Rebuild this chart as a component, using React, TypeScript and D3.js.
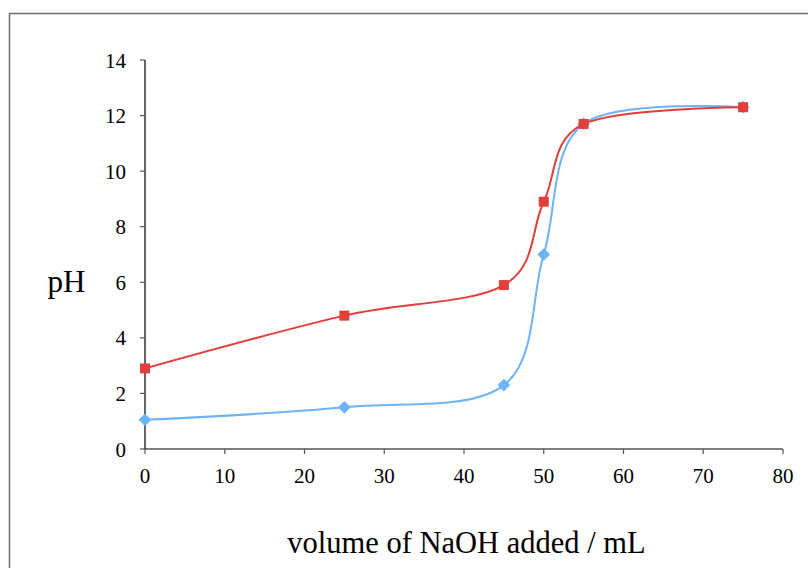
import React from "react";
import * as d3 from "d3";

const volumes = [0, 25, 45, 50, 55, 75];
const phWeak = [2.9, 4.8, 5.9, 8.9, 11.7, 12.3];
const phStrong = [1.05, 1.5, 2.3, 7.0, 11.7, 12.3];
const xTicks = [0, 10, 20, 30, 40, 50, 60, 70, 80];
const yTicks = [0, 2, 4, 6, 8, 10, 12, 14];

const W = 808;
const H = 568;
const FONT = "Liberation Serif, DejaVu Serif, serif";

export default function App() {
  const x = d3.scaleLinear().domain([0, 80]).range([145, 783]);
  const y = d3.scaleLinear().domain([0, 14]).range([449, 60]);
  const line = d3
    .line<[number, number]>()
    .x((d) => x(d[0]))
    .y((d) => y(d[1]))
    .curve(d3.curveCardinal.tension(0));
  const red = volumes.map((v, i) => [v, phWeak[i]] as [number, number]);
  const blue = volumes.map((v, i) => [v, phStrong[i]] as [number, number]);
  const redC = "#E23E3C";
  const blueC = "#6DB3F7";
  return (
    <svg
      width={W}
      height={H}
      style={{ position: "absolute", left: 0, top: 0, background: "#fff", fontFamily: FONT }}
    >
      <rect x={9.5} y={13.5} width={900} height={700} fill="none" stroke="#6e6e6e" strokeWidth={1.5} />
      <line x1={x(0)} x2={x(80)} y1={y(0)} y2={y(0)} stroke="#000" strokeWidth={1.2} />
      <line x1={x(0)} x2={x(0)} y1={y(0)} y2={y(14)} stroke="#000" strokeWidth={1.2} />
      {xTicks.map((t) => (
        <g key={"x" + t}>
          <line x1={x(t)} x2={x(t)} y1={y(0)} y2={y(0) + 5} stroke="#555" strokeWidth={1.2} />
          <text x={x(t)} y={y(0) + 34} textAnchor="middle" fontSize={21} fill="#000">
            {t}
          </text>
        </g>
      ))}
      {yTicks.map((t) => (
        <g key={"y" + t}>
          <line x1={x(0) - 5} x2={x(0)} y1={y(t)} y2={y(t)} stroke="#555" strokeWidth={1.2} />
          <text x={x(0) - 19} y={y(t) + 7.5} textAnchor="end" fontSize={21} fill="#000">
            {t}
          </text>
        </g>
      ))}
      <text x={66.5} y={292} textAnchor="middle" fontSize={31} fill="#000">
        pH
      </text>
      <text x={466.5} y={553} textAnchor="middle" fontSize={30.5} fill="#000">
        volume of NaOH added / mL
      </text>
      <path d={line(blue) || ""} fill="none" stroke={blueC} strokeWidth={2} />
      {blue.map((d, i) => (
        <rect
          key={"b" + i}
          x={x(d[0]) - 4.5}
          y={y(d[1]) - 4.5}
          width={9}
          height={9}
          fill={blueC}
          transform={`rotate(45 ${x(d[0])} ${y(d[1])})`}
        />
      ))}
      <path d={line(red) || ""} fill="none" stroke={redC} strokeWidth={2} />
      {red.map((d, i) => (
        <rect key={"r" + i} x={x(d[0]) - 5} y={y(d[1]) - 5} width={10} height={10} fill={redC} />
      ))}
    </svg>
  );
}
